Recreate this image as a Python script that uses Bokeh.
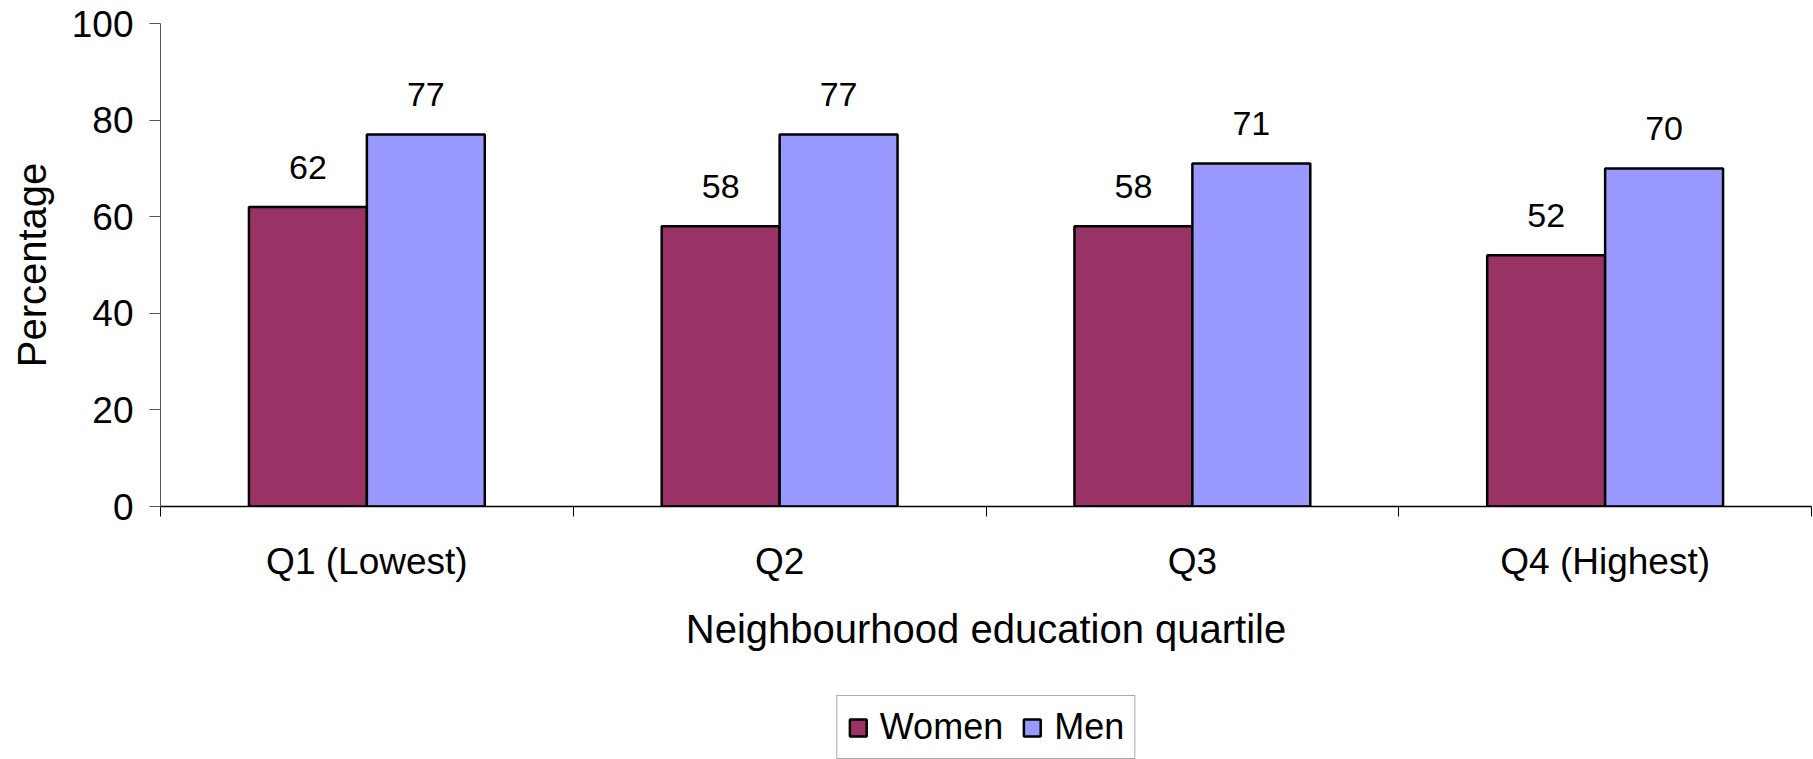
from bokeh.plotting import figure
from bokeh.layouts import column
from bokeh.models import ColumnDataSource, FixedTicker, Legend, LegendItem, Range1d
from bokeh.core.properties import value
from bokeh.embed import file_html
from bokeh.resources import INLINE

# Data
quartiles = ["Q1 (Lowest)", "Q2", "Q3", "Q4 (Highest)"]
women = [62, 58, 58, 52]
men = [77, 77, 71, 70]
y_ticks = [0, 20, 40, 60, 80, 100]

FONT = "Liberation Sans"
WOMEN_COLOR = "#993366"
MEN_COLOR = "#9999FF"

n = len(quartiles)
centers = [i + 0.5 for i in range(n)]
bar_w = 1 / 3.5          # Excel-style gap width of 150%
women_x = [c - bar_w / 2 for c in centers]
men_x = [c + bar_w / 2 for c in centers]

src_w = ColumnDataSource(dict(x=women_x, top=women, lbl=[str(v) for v in women]))
src_m = ColumnDataSource(dict(x=men_x, top=men, lbl=[str(v) for v in men]))

p = figure(width=1813, height=695, output_backend="svg", toolbar_location=None,
           x_range=Range1d(0, n), y_range=Range1d(0, 100),
           min_border_left=160, min_border_right=2, min_border_top=23,
           min_border_bottom=189)
p.background_fill_color = "white"
p.border_fill_color = "white"
p.outline_line_color = None
p.grid.visible = False

bar_line = dict(line_color="black", line_width=2.5)
p.vbar(x="x", top="top", width=bar_w, source=src_w, fill_color=WOMEN_COLOR, **bar_line)
p.vbar(x="x", top="top", width=bar_w, source=src_m, fill_color=MEN_COLOR, **bar_line)

for src in (src_w, src_m):
    p.text(x="x", y="top", text="lbl", source=src, text_align="center",
           text_baseline="middle", y_offset=-40, text_font=value(FONT),
           text_font_size="34px", text_color="black")

# X axis: labels at category centres, ticks at category boundaries
xa = p.xaxis[0]
xa.ticker = FixedTicker(ticks=centers, minor_ticks=list(range(n + 1)))
xa.major_label_overrides = {c: q for c, q in zip(centers, quartiles)}
xa.major_tick_out = 0
xa.major_tick_in = 0
xa.minor_tick_out = 10
xa.minor_tick_in = 0
xa.minor_tick_line_color = "black"
xa.axis_line_color = "black"
xa.axis_line_width = 1.5
xa.major_label_text_font = FONT
xa.major_label_text_font_size = "37px"
xa.major_label_text_color = "black"
xa.major_label_standoff = 24
xa.axis_label = "Neighbourhood education quartile"
xa.axis_label_text_font = FONT
xa.axis_label_text_font_size = "40px"
xa.axis_label_text_font_style = "normal"
xa.axis_label_text_color = "black"
xa.axis_label_standoff = 22

# Y axis
ya = p.yaxis[0]
ya.ticker = FixedTicker(ticks=y_ticks)
ya.minor_tick_line_color = None
ya.major_tick_out = 11
ya.major_tick_in = 0
ya.major_tick_line_color = "#555555"
ya.axis_line_color = "#555555"
ya.axis_line_width = 1
ya.major_label_text_font = FONT
ya.major_label_text_font_size = "37px"
ya.major_label_text_color = "black"
ya.major_label_standoff = 16
ya.axis_label = "Percentage"
ya.axis_label_text_font = FONT
ya.axis_label_text_font_size = "40px"
ya.axis_label_text_font_style = "normal"
ya.axis_label_text_color = "black"
ya.axis_label_standoff = 15

# Legend strip under the chart; tiny swatch renderers hide behind the legend box
leg = figure(width=1813, height=64, output_backend="svg", toolbar_location=None,
             x_range=Range1d(0, 1), y_range=Range1d(0, 1),
             min_border_left=160, min_border_right=2, min_border_top=0,
             min_border_bottom=0, x_axis_type=None, y_axis_type=None)
leg.outline_line_color = None
leg.grid.visible = False
lw = leg.vbar(x=[0.5], top=[0.51], bottom=[0.5], width=0.002,
              fill_color=WOMEN_COLOR, **bar_line)
lm = leg.vbar(x=[0.5], top=[0.51], bottom=[0.5], width=0.002,
              fill_color=MEN_COLOR, **bar_line)
legend = Legend(items=[LegendItem(label="Women", renderers=[lw]),
                       LegendItem(label="Men", renderers=[lm])],
                orientation="horizontal", location="center",
                label_text_font=FONT, label_text_font_size="36px",
                label_text_color="black", glyph_width=21, glyph_height=21,
                label_standoff=12, spacing=18, padding=10, margin=0,
                border_line_color="#555555", border_line_width=1,
                background_fill_color="white", background_fill_alpha=1)
leg.add_layout(legend, "center")

layout = column(p, leg, spacing=0)
open("out.html", "w").write(file_html(layout, INLINE))
